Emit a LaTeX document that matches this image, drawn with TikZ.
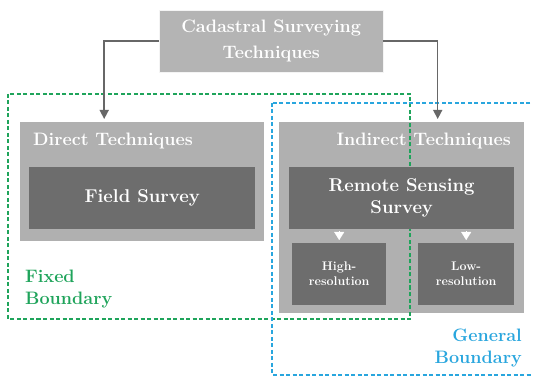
\documentclass[tikz,border=0pt]{standalone}
\usetikzlibrary{arrows.meta}

\definecolor{boxgray}{HTML}{B0B0B0}
\definecolor{topgray}{HTML}{B4B4B4}
\definecolor{darkbox}{HTML}{6D6D6D}
\definecolor{arrgray}{HTML}{676767}
\definecolor{fixgreen}{HTML}{1FA45B}
\definecolor{genblue}{HTML}{29A6DE}

\tikzset{
  lightbox/.style={fill=boxgray, inner sep=0pt, anchor=north west},
  darkbox/.style={fill=darkbox, inner sep=0pt, anchor=north west, text=white,
    align=center, font=\fontsize{18.5}{22}\selectfont\bfseries},
  smallbox/.style={darkbox, font=\fontsize{12.5}{15}\selectfont\bfseries},
  boxlabel/.style={text=white, inner sep=0pt, font=\fontsize{18}{22}\selectfont\bfseries},
  arr/.style={arrgray, line width=1.5pt, -{Triangle[width=9pt,length=9pt]}, shorten >=3pt},
  tri/.style={white, line width=0.1pt, -{Triangle[width=10pt,length=8pt]}, shorten <=2pt, shorten >=3pt},
  bound/.style={line width=1.3pt, dash pattern=on 4pt off 2.5pt},
  bndlabel/.style={inner sep=0pt, font=\fontsize{18}{21.5}\selectfont\bfseries},
}

\begin{document}
\begin{tikzpicture}[x=1pt,y=-1pt]

\clip (0,0) rectangle (533,379);
\fill[white] (0,0) rectangle (533,379);

\node[fill=topgray, draw=white!85!topgray, inner sep=0pt, anchor=north west, text=white,
  align=center, minimum width=224pt, minimum height=62pt,
  font=\fontsize{18}{26}\selectfont\bfseries] (cst) at (159,10) {Cadastral Surveying\\Techniques};

\node[lightbox, minimum width=244pt, minimum height=119pt] (dir) at (20,122) {};
\node[lightbox, minimum width=245pt, minimum height=191pt] (ind) at (279,122) {};

\node[boxlabel, anchor=base west] (dirlbl) at (33,146) {Direct Techniques};
\node[boxlabel, anchor=base east] (indlbl) at (511,146) {Indirect Techniques};

\draw[bound, fixgreen] (8,94) rectangle (410,319);
\draw[bound, genblue] (272,103) rectangle (545,375);

\node[darkbox, minimum width=226pt, minimum height=62pt] (field) at (29,167) {Field Survey};
\node[darkbox, minimum width=225pt, minimum height=62pt] (rs) at (289,167) {Remote Sensing\\Survey};
\node[smallbox, minimum width=94pt, minimum height=62pt] (hi) at (292,243) {High-\\resolution};
\node[smallbox, minimum width=96pt, minimum height=62pt] (lo) at (418,243) {Low-\\resolution};

\draw[arr] (cst.west) -| ([xshift=-38pt]dir.north);
\draw[arr] (cst.east) -| ([xshift=36pt]ind.north);
\draw[tri] (rs.south -| hi.north) -- (hi.north);
\draw[tri] (rs.south -| lo.north) -- (lo.north);

\node[bndlabel, text=fixgreen, anchor=north west, align=left] (fixed) at (25,270) {Fixed\\Boundary};
\node[bndlabel, text=genblue, anchor=north east, align=right] (general) at (522,329) {General\\Boundary};

\end{tikzpicture}
\end{document}
